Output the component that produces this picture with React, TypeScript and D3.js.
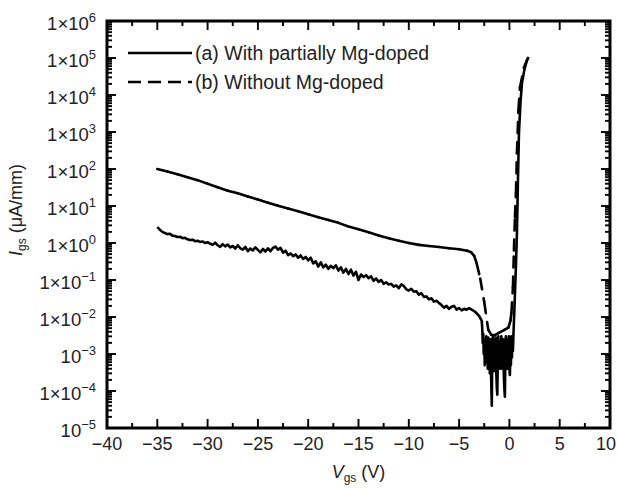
import React from "react";
import * as d3 from "d3";

const W = 618;
const H = 488;
const plot = { left: 107, right: 610, top: 21, bottom: 428 };

// axis ticks
const xTicks = [-40, -35, -30, -25, -20, -15, -10, -5, 0, 5, 10];
const xTickLabels = ["−40", "−35", "−30", "−25", "−20", "−15", "−10", "−5", "0", "5", "10"];
const yExponents = [-5, -4, -3, -2, -1, 0, 1, 2, 3, 4, 5, 6];
const yMantissa = ["10", "1×10", "10", "1×10", "1×10", "1×10", "1×10", "1×10", "1×10", "1×10", "1×10", "1×10"];
const yPowers = ["−5", "−4", "−3", "−2", "−1", "0", "1", "2", "3", "4", "5", "6"];

const legendLabels = ["(a) With partially Mg-doped", "(b) Without Mg-doped"];

// (a) with partially Mg-doped : Vgs (V), Igs (uA/mm)
const curveA: [number, number][] = [
  [-35, 2.69], [-34.75, 2.29], [-34.5, 2.0], [-34.25, 1.86], [-34, 1.74], [-33.75, 1.78],
  [-33.5, 1.58], [-33.25, 1.55], [-33, 1.45], [-32.75, 1.48], [-32.5, 1.35], [-32.25, 1.38],
  [-32, 1.26], [-31.75, 1.2], [-31.5, 1.23], [-31.25, 1.12], [-31, 1.15], [-30.75, 1.07],
  [-30.5, 1.1], [-30.25, 1.0], [-30, 1.05], [-29.75, 0.955], [-29.5, 0.89], [-29.25, 1.02],
  [-29, 0.87], [-28.75, 0.79], [-28.5, 0.93], [-28.25, 0.81], [-28, 0.91], [-27.75, 0.76],
  [-27.5, 0.83], [-27.25, 0.71], [-27, 0.87], [-26.75, 0.72], [-26.5, 0.66], [-26.25, 0.79],
  [-26, 0.6], [-25.75, 0.71], [-25.5, 0.63], [-25.25, 0.76], [-25, 0.65], [-24.75, 0.56],
  [-24.5, 0.69], [-24.25, 0.59], [-24, 0.72], [-23.75, 0.6], [-23.5, 0.74], [-23.25, 0.8],
  [-23, 0.66], [-22.75, 0.74], [-22.5, 0.55], [-22.25, 0.62], [-22, 0.47], [-21.75, 0.52],
  [-21.5, 0.44], [-21.25, 0.49], [-21, 0.4], [-20.75, 0.46], [-20.5, 0.37], [-20.25, 0.42],
  [-20, 0.34], [-19.75, 0.4], [-19.5, 0.28], [-19.25, 0.32], [-19, 0.23], [-18.75, 0.3],
  [-18.5, 0.22], [-18.25, 0.26], [-18, 0.2], [-17.75, 0.24], [-17.5, 0.21], [-17.25, 0.25],
  [-17, 0.18], [-16.75, 0.22], [-16.5, 0.158], [-16.25, 0.2], [-16, 0.145], [-15.75, 0.19],
  [-15.5, 0.132], [-15.25, 0.166], [-15, 0.1], [-14.75, 0.141], [-14.5, 0.12], [-14.25, 0.135],
  [-14, 0.112], [-13.75, 0.126], [-13.5, 0.095], [-13.25, 0.11], [-13, 0.089], [-12.75, 0.1],
  [-12.5, 0.079], [-12.25, 0.087], [-12, 0.076], [-11.75, 0.079], [-11.5, 0.066], [-11.25, 0.072],
  [-11, 0.06], [-10.75, 0.076], [-10.5, 0.069], [-10.25, 0.056], [-10, 0.052], [-9.75, 0.058],
  [-9.5, 0.048], [-9.25, 0.05], [-9, 0.04], [-8.75, 0.044], [-8.5, 0.035], [-8.25, 0.036],
  [-8, 0.03], [-7.75, 0.032], [-7.5, 0.026], [-7.25, 0.0275], [-7, 0.024], [-6.75, 0.021],
  [-6.5, 0.018], [-6.25, 0.02], [-6, 0.0166], [-5.75, 0.019], [-5.5, 0.02], [-5.25, 0.0158],
  [-5, 0.0174], [-4.75, 0.0151], [-4.5, 0.0166], [-4.25, 0.0158], [-4, 0.0174], [-3.75, 0.0158],
  [-3.5, 0.0145], [-3.25, 0.0126], [-3, 0.0105], [-2.75, 0.0079],
  // noisy region near pinch-off
  [-2.7, 5.0e-3], [-2.65, 2.0e-3], [-2.6, 3.5e-3], [-2.55, 1.0e-3], [-2.5, 2.5e-3], [-2.45, 5.0e-4],
  [-2.4, 2.2e-3], [-2.35, 8.0e-4], [-2.3, 3.0e-3], [-2.25, 6.0e-4], [-2.2, 2.0e-3], [-2.15, 4.0e-4],
  [-2.1, 2.8e-3], [-2.05, 5.0e-4], [-2.0, 1.8e-3], [-1.95, 3.0e-4], [-1.9, 2.5e-3], [-1.85, 6.0e-4],
  [-1.8, 1.5e-4], [-1.75, 4.0e-5], [-1.7, 1.0e-3], [-1.65, 3.0e-3], [-1.6, 6.0e-4], [-1.55, 2.5e-3],
  [-1.5, 3.5e-4], [-1.45, 1.5e-3], [-1.4, 5.0e-4], [-1.35, 2.8e-3], [-1.3, 3.0e-4], [-1.25, 1.2e-4],
  [-1.2, 8.0e-5], [-1.15, 1.0e-3], [-1.1, 3.0e-3], [-1.05, 6.0e-4], [-1.0, 2.2e-3], [-0.95, 4.0e-4],
  [-0.9, 1.8e-3], [-0.85, 7.0e-4], [-0.8, 3.0e-3], [-0.75, 4.0e-4], [-0.7, 2.0e-3], [-0.65, 5.0e-4],
  [-0.6, 2.5e-3], [-0.55, 2.5e-4], [-0.5, 1.2e-4], [-0.45, 7.0e-5], [-0.4, 8.0e-4], [-0.35, 3.0e-3],
  [-0.3, 6.0e-4], [-0.25, 2.2e-3], [-0.2, 4.0e-4], [-0.15, 2.5e-3], [-0.1, 7.0e-4], [-0.05, 3.0e-3],
  [0, 4.0e-4], [0.05, 2.7e-4], [0.1, 1.5e-3], [0.15, 5.0e-4], [0.2, 3.0e-3], [0.25, 8.0e-4],
  [0.3, 2.5e-3], [0.35, 1.2e-3], [0.4, 3.2e-3],
  // turn-on
  [0.55, 0.04], [0.65, 0.25], [0.75, 1.86], [0.85, 50],
  [0.95, 930], [1.1, 6300], [1.25, 2.1e4], [1.5, 5.0e4], [1.75, 8.9e4], [1.9, 1.05e5],
];

// (b) without Mg-doped
const curveB: [number, number][] = [
  [-35, 100], [-34, 85], [-33, 72], [-32, 60], [-31, 50], [-30, 40], [-29, 32], [-28, 26],
  [-27, 22], [-26, 18], [-25, 15], [-24, 12.3], [-23, 10.2], [-22, 8.5], [-21, 7.2], [-20, 6.0],
  [-19, 5.0], [-18, 4.2], [-17, 3.5], [-16, 2.8], [-15, 2.35], [-14, 1.95], [-13, 1.6], [-12, 1.35],
  [-11, 1.15], [-10, 1.0], [-9, 0.89], [-8, 0.83], [-7, 0.78], [-6, 0.72], [-5, 0.68], [-4.2, 0.62],
  [-3.8, 0.56], [-3.5, 0.45], [-3.25, 0.28], [-2.9, 0.11], [-2.5, 0.025], [-2.1, 4.5e-3],
  [-1.8, 3.3e-3], [-1.5, 3.2e-3], [-1.0, 3.8e-3], [-0.5, 4.5e-3], [-0.1, 5.2e-3], [0.1, 7.9e-3],
  [0.2, 0.0126], [0.35, 0.063], [0.45, 0.63], [0.55, 5.0], [0.65, 22], [0.75, 270], [0.9, 4000],
  [1.05, 1.6e4], [1.45, 5.6e4], [1.85, 1.0e5],
];

const FONT = "'Liberation Sans', Arial, Helvetica, sans-serif";

export default function App() {
  const x = d3.scaleLinear().domain([-40, 10]).range([plot.left, plot.right]);
  const y = d3.scaleLog().domain([1e-5, 1e6]).range([plot.bottom, plot.top]);

  const line = d3
    .line<[number, number]>()
    .x((d) => x(d[0]))
    .y((d) => y(d[1]));

  const xMinor = d3.range(-37.5, 10, 5);
  const yMinor: number[] = [];
  for (let e = -5; e < 6; e++) for (let k = 2; k <= 9; k++) yMinor.push(k * Math.pow(10, e));

  const major = 9;
  const minor = 5;

  return (
    <div style={{ position: "fixed", left: 0, top: 0 }}>
      <svg width={W} height={H} style={{ display: "block", background: "#fff" }} fontFamily={FONT}>
        {/* curves */}
        <path d={line(curveA) || ""} fill="none" stroke="#000" strokeWidth={2.6} strokeLinejoin="round" />
        {/* dashed curve: pattern restarts on every segment, so dense parts look solid */}
        {d3.pairs(curveB).map(([p, q], i) => (
          <line
            key={i}
            x1={x(p[0])}
            y1={y(p[1])}
            x2={x(q[0])}
            y2={y(q[1])}
            stroke="#000"
            strokeWidth={2.6}
            strokeDasharray="11,9"
            strokeLinecap="round"
          />
        ))}

        {/* frame + ticks */}
        <g stroke="#000" strokeWidth={1.9}>
          {xTicks.map((t) => (
            <g key={"xt" + t}>
              <line x1={x(t)} x2={x(t)} y1={plot.bottom} y2={plot.bottom - major} />
              <line x1={x(t)} x2={x(t)} y1={plot.top} y2={plot.top + major} />
            </g>
          ))}
          {xMinor.map((t) => (
            <g key={"xm" + t}>
              <line x1={x(t)} x2={x(t)} y1={plot.bottom} y2={plot.bottom - minor} />
              <line x1={x(t)} x2={x(t)} y1={plot.top} y2={plot.top + minor} />
            </g>
          ))}
          {yExponents.map((e) => (
            <g key={"yt" + e}>
              <line x1={plot.left} x2={plot.left + major} y1={y(Math.pow(10, e))} y2={y(Math.pow(10, e))} />
              <line x1={plot.right} x2={plot.right - major} y1={y(Math.pow(10, e))} y2={y(Math.pow(10, e))} />
            </g>
          ))}
          {yMinor.map((v, i) => (
            <g key={"ym" + i}>
              <line x1={plot.left} x2={plot.left + minor} y1={y(v)} y2={y(v)} />
              <line x1={plot.right} x2={plot.right - minor} y1={y(v)} y2={y(v)} />
            </g>
          ))}
        </g>
        <rect
          x={plot.left}
          y={plot.top}
          width={plot.right - plot.left}
          height={plot.bottom - plot.top}
          fill="none"
          stroke="#000"
          strokeWidth={3}
        />

        {/* x tick labels */}
        {xTicks.map((t, i) => (
          <text
            key={"xl" + t}
            x={Math.min(x(t), W - 12)}
            y={plot.bottom + 22}
            textAnchor="middle"
            fontSize={18}
            fill="#222"
          >
            {xTickLabels[i]}
          </text>
        ))}

        {/* y tick labels */}
        {yExponents.map((e, i) => (
          <text key={"yl" + e} x={plot.left - 11} y={y(Math.pow(10, e)) + 9} textAnchor="end" fontSize={18.5} fill="#222">
            <tspan>{yMantissa[i]}</tspan>
            <tspan dy={-8} fontSize={13}>
              {yPowers[i]}
            </tspan>
          </text>
        ))}

        {/* axis titles */}
        <text x={(plot.left + plot.right) / 2} y={478} textAnchor="middle" fontSize={18} fill="#222">
          <tspan fontStyle="italic">V</tspan>
          <tspan fontSize={12} dy={4}>gs</tspan>
          <tspan dy={-4}> (V)</tspan>
        </text>
        <text transform="translate(22,210) rotate(-90)" textAnchor="middle" fontSize={18} fill="#222">
          <tspan fontStyle="italic">I</tspan>
          <tspan fontSize={12} dy={4}>gs</tspan>
          <tspan dy={-4}> (μA/mm)</tspan>
        </text>

        {/* legend */}
        {legendLabels.map((label, i) => {
          const ly = 53 + i * 29;
          return (
            <g key={label}>
              <line
                x1={128}
                x2={192}
                y1={ly}
                y2={ly}
                stroke="#000"
                strokeWidth={2.4}
                strokeDasharray={i === 1 ? "13,7" : undefined}
              />
              <text x={195} y={ly + 6.5} fontSize={19.5} fill="#222">
                {label}
              </text>
            </g>
          );
        })}
      </svg>
    </div>
  );
}
